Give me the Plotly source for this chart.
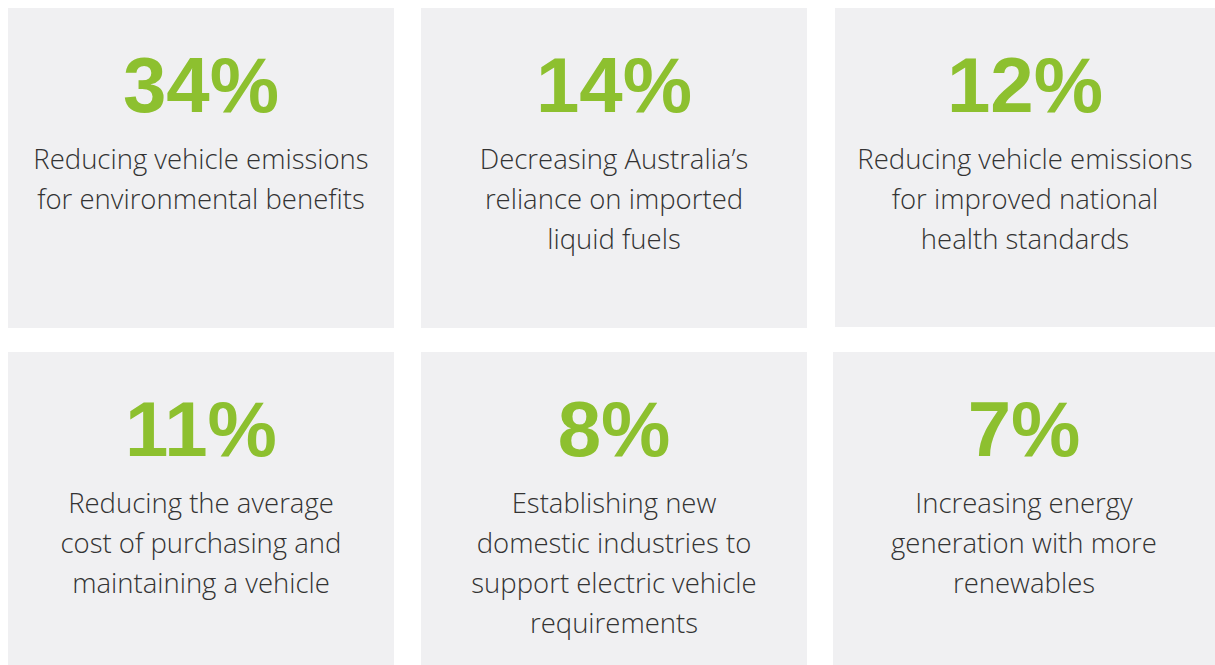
import plotly.graph_objects as go

# ---- data ----
percentages = [34, 14, 12, 11, 8, 7]
descriptions = [
    ["Reducing vehicle emissions", "for environmental benefits"],
    ["Decreasing Australia\u2019s", "reliance on imported", "liquid fuels"],
    ["Reducing vehicle emissions", "for improved national", "health standards"],
    ["Reducing the average", "cost of purchasing and", "maintaining a vehicle"],
    ["Establishing new", "domestic industries to", "support electric vehicle", "requirements"],
    ["Increasing energy", "generation with more", "renewables"],
]

# ---- layout of the cards (pixel space) ----
W, H = 1215, 665
card_left = [8, 421, 835, 8, 421, 833]
card_right = [394, 807, 1215, 394, 807, 1215]
card_top = [8, 8, 8, 352, 352, 352]
card_bottom = [328, 328, 327, 665, 665, 665]

CARD_BG = "#F0F0F2"
GREEN = "#8DC02F"
TEXT = "#333333"

fig = go.Figure()

shapes = []
for i in range(len(percentages)):
    shapes.append(dict(type="rect", xref="x", yref="y",
                       x0=card_left[i], x1=card_right[i],
                       y0=card_top[i], y1=card_bottom[i],
                       fillcolor=CARD_BG, line=dict(width=0), layer="below"))

num_x, num_y, num_t = [], [], []
line_x, line_y, line_t = [], [], []
for i, p in enumerate(percentages):
    cx = (card_left[i] + card_right[i]) / 2
    num_x.append(cx)
    num_y.append(card_top[i] + 84)
    num_t.append(f"{p}%")
    for j, ln in enumerate(descriptions[i]):
        line_x.append(cx)
        line_y.append(card_top[i] + 154 + 40 * j)
        line_t.append(ln)

fig.add_trace(go.Scatter(
    x=num_x, y=num_y, text=num_t, mode="text",
    textposition="middle center",
    textfont=dict(family="Liberation Sans", size=78, color=GREEN, weight=700),
    hoverinfo="skip", showlegend=False))

fig.add_trace(go.Scatter(
    x=line_x, y=line_y, text=line_t, mode="text",
    textposition="middle center",
    textfont=dict(family="Open Sans", size=27.5, color=TEXT, weight=300),
    hoverinfo="skip", showlegend=False))

fig.update_layout(
    width=W, height=H,
    margin=dict(l=0, r=0, t=0, b=0),
    paper_bgcolor="white", plot_bgcolor="white",
    shapes=shapes,
    xaxis=dict(range=[0, W], visible=False, fixedrange=True),
    yaxis=dict(range=[H, 0], visible=False, fixedrange=True),
)

fig.write_html("out.html", config={"displayModeBar": False},
               post_script="document.body.style.margin='0';")
